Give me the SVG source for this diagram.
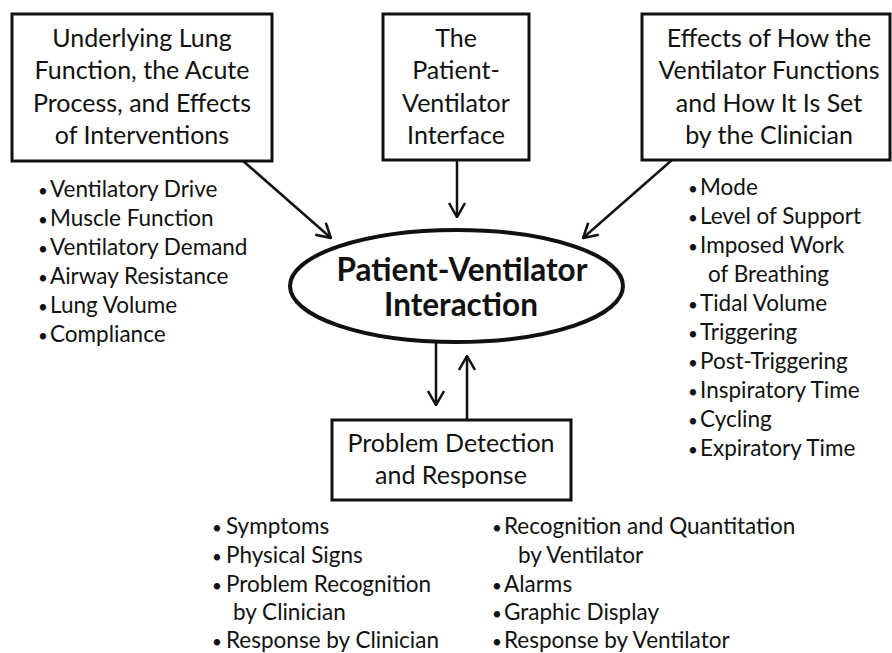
<svg xmlns="http://www.w3.org/2000/svg" width="892" height="653" viewBox="0 0 892 653">
<defs>
<style>
.box{fill:#fff;stroke:#111;stroke-width:3}
.t{font-family:Lato,"Liberation Sans",sans-serif;font-size:25px;fill:#111;text-anchor:middle}
.l{font-family:Lato,"Liberation Sans",sans-serif;font-size:22.5px;fill:#111}
.d{font-size:17px}
.b{font-family:Lato,"Liberation Sans",sans-serif;font-size:31.5px;font-weight:bold;fill:#111;text-anchor:middle}
.c{stroke:#111;stroke-width:2.5;fill:none}
</style>
<marker id="ah" markerUnits="userSpaceOnUse" viewBox="0 0 16 18" refX="15" refY="9" markerWidth="16" markerHeight="18" orient="auto">
<path d="M1,1 L15,9 L1,17" fill="none" stroke="#111" stroke-width="2.5"/>
</marker>
</defs>
<rect width="892" height="653" fill="#fff"/>
<g id="connectors">
<line class="c" x1="242" y1="160" x2="331" y2="238" marker-end="url(#ah)"/>
<line class="c" x1="457" y1="160" x2="457" y2="217" marker-end="url(#ah)"/>
<line class="c" x1="672" y1="160" x2="583" y2="238" marker-end="url(#ah)"/>
<line class="c" x1="436" y1="343" x2="436" y2="405" marker-end="url(#ah)"/>
<line class="c" x1="467" y1="420" x2="467" y2="356" marker-end="url(#ah)"/>
</g>
<g id="lung">
<rect class="box" x="12" y="14" width="260" height="147"/>
<text class="t" x="142" y="47">Underlying Lung</text>
<text class="t" x="142" y="79">Function, the Acute</text>
<text class="t" x="142" y="112">Process, and Effects</text>
<text class="t" x="142" y="144">of Interventions</text>
</g>
<g id="lung-list" class="l">
<text y="197"><tspan class="d" x="38">•</tspan><tspan x="50">Ventilatory Drive</tspan></text>
<text y="226"><tspan class="d" x="38">•</tspan><tspan x="50">Muscle Function</tspan></text>
<text y="255"><tspan class="d" x="38">•</tspan><tspan x="50">Ventilatory Demand</tspan></text>
<text y="284"><tspan class="d" x="38">•</tspan><tspan x="50">Airway Resistance</tspan></text>
<text y="313"><tspan class="d" x="38">•</tspan><tspan x="50">Lung Volume</tspan></text>
<text y="342"><tspan class="d" x="38">•</tspan><tspan x="50">Compliance</tspan></text>
</g>
<g id="interface">
<rect class="box" x="383" y="14" width="146" height="146"/>
<text class="t" x="456" y="47">The</text>
<text class="t" x="456" y="79">Patient-</text>
<text class="t" x="456" y="112">Ventilator</text>
<text class="t" x="456" y="144">Interface</text>
</g>
<g id="ventilator">
<rect class="box" x="642" y="14" width="248" height="146"/>
<text class="t" x="769" y="47">Effects of How the</text>
<text class="t" x="769" y="79">Ventilator Functions</text>
<text class="t" x="769" y="112">and How It Is Set</text>
<text class="t" x="769" y="144">by the Clinician</text>
</g>
<g id="ventilator-list" class="l">
<text y="195"><tspan class="d" x="688">•</tspan><tspan x="700">Mode</tspan></text>
<text y="224"><tspan class="d" x="688">•</tspan><tspan x="700">Level of Support</tspan></text>
<text y="253"><tspan class="d" x="688">•</tspan><tspan x="700">Imposed Work</tspan></text>
<text x="708" y="282">of Breathing</text>
<text y="311"><tspan class="d" x="688">•</tspan><tspan x="700">Tidal Volume</tspan></text>
<text y="340"><tspan class="d" x="688">•</tspan><tspan x="700">Triggering</tspan></text>
<text y="369"><tspan class="d" x="688">•</tspan><tspan x="700">Post-Triggering</tspan></text>
<text y="398"><tspan class="d" x="688">•</tspan><tspan x="700">Inspiratory Time</tspan></text>
<text y="427"><tspan class="d" x="688">•</tspan><tspan x="700">Cycling</tspan></text>
<text y="456"><tspan class="d" x="688">•</tspan><tspan x="700">Expiratory Time</tspan></text>
</g>
<g id="interaction">
<ellipse cx="456.5" cy="286" rx="166.5" ry="56" fill="#fff" stroke="#111" stroke-width="4"/>
<text class="b" x="462" y="281">Patient-Ventilator</text>
<text class="b" x="461" y="316">Interaction</text>
</g>
<g id="problem">
<rect class="box" x="332" y="420" width="239" height="80"/>
<text class="t" x="451" y="452">Problem Detection</text>
<text class="t" x="451" y="484">and Response</text>
</g>
<g id="problem-list" class="l">
<text y="534"><tspan class="d" x="212">•</tspan><tspan x="226">Symptoms</tspan></text>
<text y="563"><tspan class="d" x="212">•</tspan><tspan x="226">Physical Signs</tspan></text>
<text y="592"><tspan class="d" x="212">•</tspan><tspan x="226">Problem Recognition</tspan></text>
<text x="233" y="620"><tspan>by Clinician</tspan></text>
<text y="648"><tspan class="d" x="212">•</tspan><tspan x="226">Response by Clinician</tspan></text>
<text y="534"><tspan class="d" x="492">•</tspan><tspan x="504">Recognition and Quantitation</tspan></text>
<text x="518" y="563">by Ventilator</text>
<text y="592"><tspan class="d" x="492">•</tspan><tspan x="504">Alarms</tspan></text>
<text y="620"><tspan class="d" x="492">•</tspan><tspan x="504">Graphic Display</tspan></text>
<text y="648"><tspan class="d" x="492">•</tspan><tspan x="504">Response by Ventilator</tspan></text>
</g>
</svg>
